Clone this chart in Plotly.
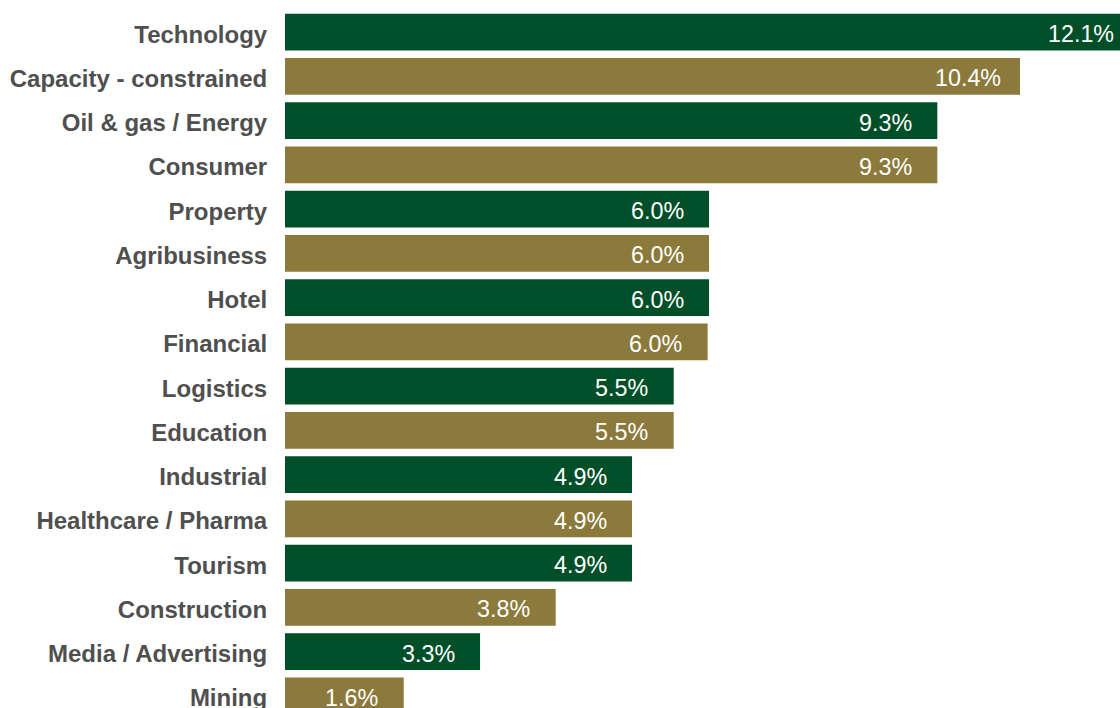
import plotly.graph_objects as go

categories = [
    "Technology", "Capacity - constrained", "Oil & gas / Energy", "Consumer",
    "Property", "Agribusiness", "Hotel", "Financial", "Logistics", "Education",
    "Industrial", "Healthcare / Pharma", "Tourism", "Construction",
    "Media / Advertising", "Mining",
]
# bar lengths as drawn (percent)
values = [12.0, 10.4, 9.23, 9.23, 6.0, 6.0, 6.0, 5.98, 5.5, 5.5, 4.91, 4.91, 4.91, 3.83, 2.76, 1.68]
# printed labels
labels = ["12.1%", "10.4%", "9.3%", "9.3%", "6.0%", "6.0%", "6.0%", "6.0%", "5.5%", "5.5%",
          "4.9%", "4.9%", "4.9%", "3.8%", "3.3%", "1.6%"]

GREEN = "#004f28"
GOLD = "#8b7a3b"
colors = [GREEN if i % 2 == 0 else GOLD for i in range(len(categories))]
LABEL_OFFSET = 0.735  # label centre sits this far inside the bar end

fig = go.Figure()
fig.add_trace(go.Bar(
    x=values, y=categories, orientation="h",
    marker=dict(color=colors, line=dict(width=0)),
    hoverinfo="skip",
))

for cat, v, lab in zip(categories, values, labels):
    fig.add_annotation(
        x=v - LABEL_OFFSET, y=cat, xref="x", yref="y",
        text=lab, showarrow=False, xanchor="center", yanchor="middle",
        yshift=-2,
        font=dict(family="Liberation Sans, Arial, sans-serif", size=23.3, color="white"),
    )

fig.update_layout(
    width=1120, height=708,
    margin=dict(l=285, r=0, t=10, b=0),
    paper_bgcolor="white", plot_bgcolor="white",
    showlegend=False,
    bargap=0.164,
    xaxis=dict(range=[0, 11.815], showticklabels=False, showgrid=False,
               zeroline=False, showline=False, fixedrange=True),
    yaxis=dict(range=[15.274, -0.5], type="category",
               categoryorder="array", categoryarray=categories,
               showgrid=False, zeroline=False, showline=False,
               ticks="outside", ticklen=12, tickcolor="rgba(0,0,0,0)",
               ticklabelshift=-2,
               tickfont=dict(family="Liberation Sans, Arial, sans-serif", size=24,
                             color="#4f4f4f", weight="bold"),
               automargin=False, fixedrange=True),
)

fig.write_html("out.html")
